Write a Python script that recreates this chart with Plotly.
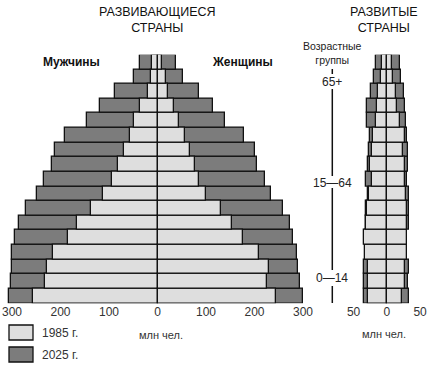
import plotly.graph_objects as go

W, H = 432, 371

ages = ["0-4", "5-9", "10-14", "15-19", "20-24", "25-29", "30-34", "35-39", "40-44",
        "45-49", "50-54", "55-59", "60-64", "65-69", "70-74", "75-79", "80+"]

# Developing countries, million people (bottom 0-4 to top 80+)
dev_men_1985 = [257, 233, 228, 216, 185, 165, 138, 112, 94, 82, 69, 57, 48, 36, 20, 14, 12]
dev_men_2025 = [306, 303, 301, 299, 293, 285, 272, 249, 234, 218, 211, 190, 146, 119, 87, 48, 36]
dev_women_1985 = [244, 225, 230, 209, 176, 153, 130, 101, 86, 77, 67, 57, 44, 34, 22, 17, 9]
dev_women_2025 = [299, 294, 289, 287, 280, 273, 258, 235, 222, 206, 200, 178, 139, 115, 86, 52, 38]

# Developed countries, million people
ind_men_1985 = [29, 28, 28, 33, 35, 31, 30, 27, 22, 25, 23, 21, 16.5, 15, 12.5, 8.5, 7.5]
ind_men_2025 = [35, 35, 35, 31, 33, 31, 31, 28, 32, 28, 27, 26, 30, 30, 24, 19, 16]
ind_women_1985 = [23, 27, 28, 31, 30, 31, 30, 29, 27, 27, 25, 27, 20, 16, 14, 10, 8.5]
ind_women_2025 = [34, 32, 33, 30, 29, 33, 33, 34, 30, 32, 32, 31, 29, 27, 26, 21, 20]

dev_ticks = [-300, -200, -100, 0, 100, 200, 300]
dev_ticktext = ["300", "200", "100", "0", "100", "200", "300"]
ind_ticks = [-50, 0, 50]
ind_ticktext = ["50", "0", "50"]

LIGHT = "#dedede"
DARK = "#7c7c7c"
FONT = "Liberation Sans, Arial, sans-serif"


def px(x):
    return x / W


def py(y):
    return 1 - y / H


fig = go.Figure()


def add_bars(vals, color, xa, negate):
    v = [-a for a in vals] if negate else vals
    fig.add_trace(go.Bar(
        y=ages, x=v, orientation="h", xaxis=xa, yaxis="y",
        marker=dict(color=color, line=dict(color="#111", width=1.3)),
        showlegend=False, hoverinfo="skip", width=1.0,
    ))


# 2025 first (behind), 1985 on top
add_bars(dev_men_2025, DARK, "x", True)
add_bars(dev_women_2025, DARK, "x", False)
add_bars(dev_men_1985, LIGHT, "x", True)
add_bars(dev_women_1985, LIGHT, "x", False)
add_bars(ind_men_2025, DARK, "x2", True)
add_bars(ind_women_2025, DARK, "x2", False)
add_bars(ind_men_1985, LIGHT, "x2", True)
add_bars(ind_women_1985, LIGHT, "x2", False)

y_top, y_bot = 54.7, 303.3
c0, s0 = 157.5, 0.485
d0, d1 = 5, 310
c1, s1 = 386.8, 0.665
e0, e1 = 352, 422

axis_common = dict(showgrid=False, zeroline=False, showline=False, ticks="",
                   tickfont=dict(size=12, color="#333", family=FONT), fixedrange=True)

fig.update_layout(
    width=W, height=H,
    margin=dict(l=0, r=0, t=0, b=0, autoexpand=False),
    showlegend=False,
    paper_bgcolor="white", plot_bgcolor="white",
    barmode="overlay", bargap=0,
    font=dict(family=FONT, color="#111"),
    xaxis=dict(domain=[px(d0), px(d1)], range=[(d0 - c0) / s0, (d1 - c0) / s0],
               tickvals=dev_ticks, ticktext=dev_ticktext, anchor="y", **axis_common),
    xaxis2=dict(domain=[px(e0), px(e1)], range=[(e0 - c1) / s1, (e1 - c1) / s1],
                tickvals=ind_ticks, ticktext=ind_ticktext, anchor="y", **axis_common),
    yaxis=dict(domain=[py(y_bot), py(y_top)], showticklabels=False, showgrid=False,
               zeroline=False, showline=False, ticks="", type="category",
               categoryorder="array", categoryarray=ages, range=[-0.5, 16.5]),
)

ann = []


def text(x, y, s, size=12, bold=False, color="#111", xanchor="center"):
    ann.append(dict(x=px(x), y=py(y), xref="paper", yref="paper", text=s,
                    showarrow=False, xanchor=xanchor, yanchor="middle",
                    font=dict(size=size, color=color, family=FONT,
                              weight="bold" if bold else "normal")))


text(157.5, 20, "РАЗВИВАЮЩИЕСЯ<br>СТРАНЫ", 12.5)
text(384, 20, "РАЗВИТЫЕ<br>СТРАНЫ", 12.5)
text(71, 62, "Мужчины", 12, bold=True)
text(242, 62, "Женщины", 12, bold=True)
text(332, 53, "Возрастные<br>группы", 10.5, color="#222")
text(332, 82, "65+", 12, color="#222")
text(332, 183, "15—64", 12, color="#222")
text(332, 278, "0—14", 12, color="#222")
text(161, 335, "млн чел.", 11, color="#333")
text(384, 334, "млн чел.", 11, color="#333")
text(40, 333, "1985 г.", 12, color="#333", xanchor="left")
text(40, 355, "2025 г.", 12, color="#333", xanchor="left")

shapes = []
for (ya, yb) in [(69, 74), (89, 176), (188, 270), (286, 303)]:
    shapes.append(dict(type="line", xref="paper", yref="paper",
                       x0=px(332.3), x1=px(332.3), y0=py(ya), y1=py(yb),
                       line=dict(color="#111", width=1.5)))
for (ya, yb, col) in [(325, 340, LIGHT), (347, 362, DARK)]:
    shapes.append(dict(type="rect", xref="paper", yref="paper",
                       x0=px(9), x1=px(33), y0=py(yb), y1=py(ya),
                       fillcolor=col, line=dict(color="#111", width=1.3)))

fig.update_layout(annotations=ann, shapes=shapes)
fig.write_html("out.html", post_script="document.body.style.margin='0';",
               config={"displayModeBar": False})
